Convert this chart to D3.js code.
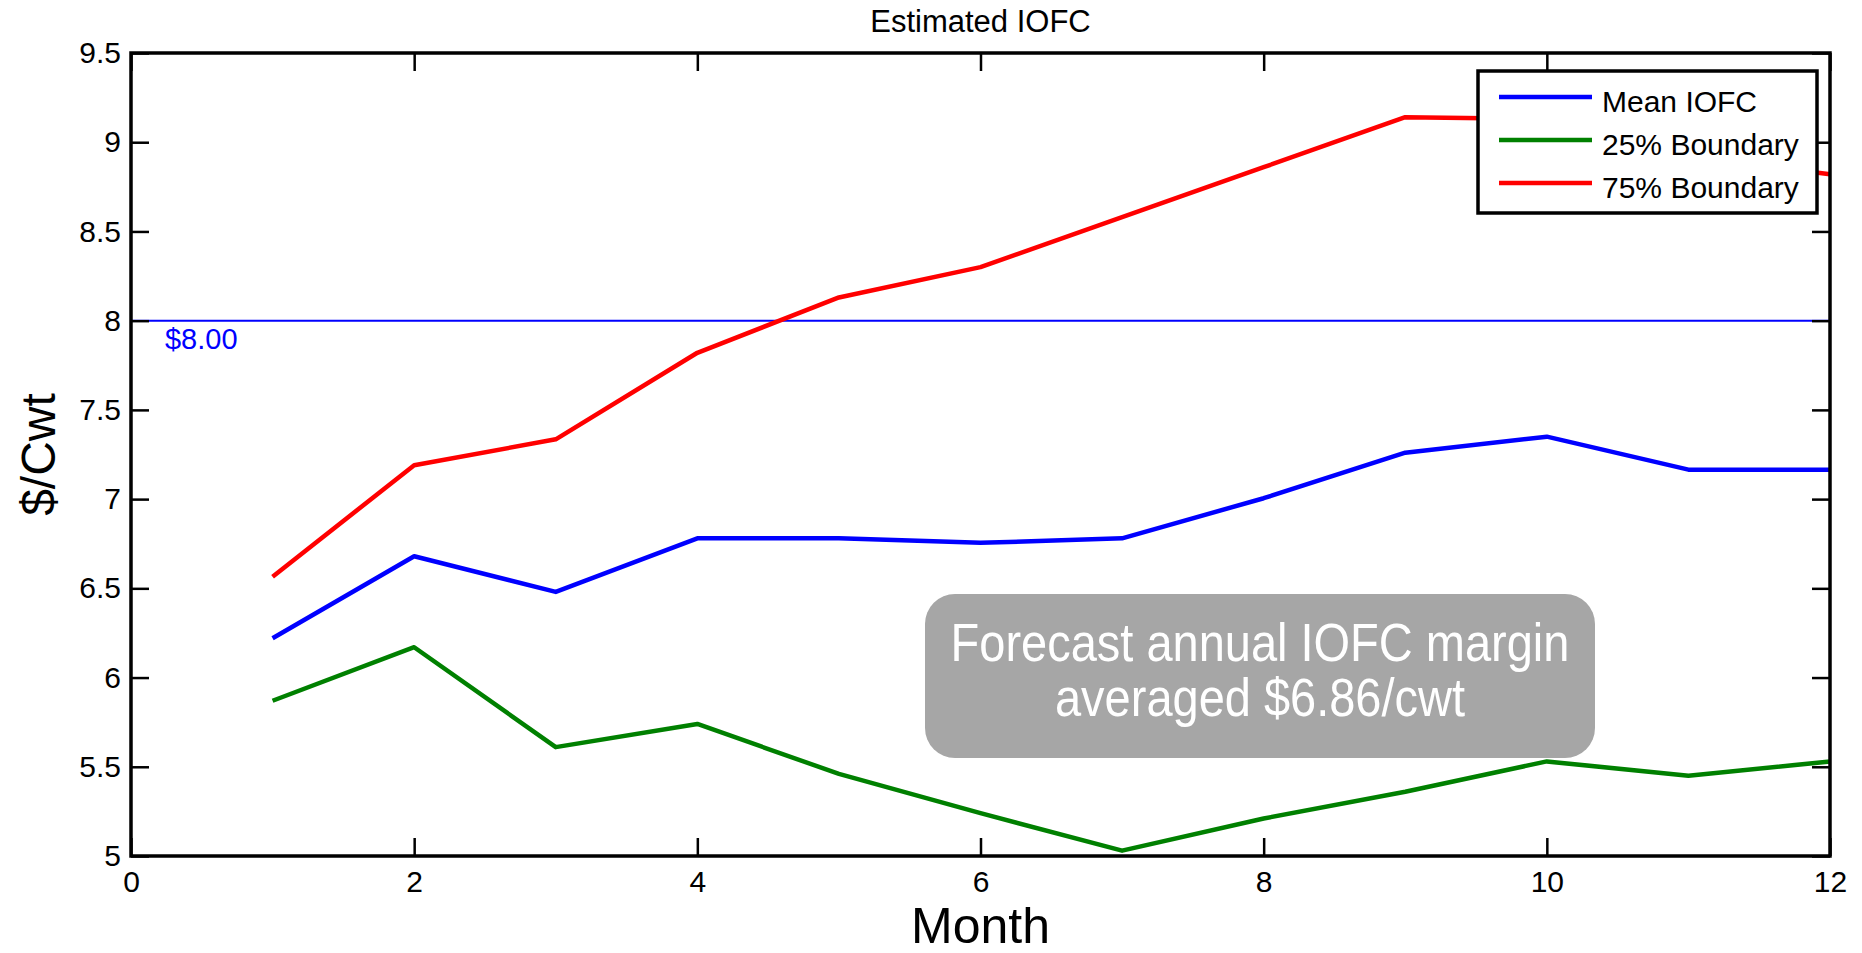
<!DOCTYPE html>
<html>
<head>
<meta charset="utf-8">
<script src="https://cdn.jsdelivr.net/npm/d3@7"></script>
<style>
  body { margin: 0; background: #fff; }
  svg { display: block; font-family: "Liberation Sans", Arial, sans-serif; }
  .axis path { display: none; }
  .axis line { stroke: #000; stroke-width: 2.5; }
  .axis text { font-size: 30px; fill: #000; font-family: "Liberation Sans", Arial, sans-serif; }
</style>
</head>
<body>
<svg id="chart" width="1862" height="953"></svg>
<script>
// months on the x axis
var months = [1, 2, 3, 4, 5, 6, 7, 8, 9, 10, 11, 12];

// estimated IOFC, $/cwt
var meanIOFC = [6.22, 6.68, 6.48, 6.78, 6.78, 6.755, 6.78, 7.005, 7.26, 7.35, 7.165, 7.165];
var boundary25 = [5.87, 6.17, 5.61, 5.74, 5.46, 5.24, 5.03, 5.21, 5.36, 5.53, 5.45, 5.53];
var boundary75 = [6.565, 7.19, 7.335, 7.82, 8.13, 8.30, 8.58, 8.86, 9.14, 9.13, 8.92, 8.82];

var seriesNames = ["Mean IOFC", "25% Boundary", "75% Boundary"];
var seriesColors = ["#0000ff", "#008000", "#ff0000"];

var xTicks = [0, 2, 4, 6, 8, 10, 12];
var yTicks = [5, 5.5, 6, 6.5, 7, 7.5, 8, 8.5, 9, 9.5];

var refValue = 8;
var refLabel = "$8.00";
var noteLines = ["Forecast annual IOFC margin", "averaged $6.86/cwt"];

document.addEventListener("DOMContentLoaded", draw);

function draw() {
  var svg = d3.select("#chart"),
      margin = {top: 53, right: 32, bottom: 97, left: 131},
      width = +svg.attr("width") - margin.left - margin.right,
      height = +svg.attr("height") - margin.top - margin.bottom;

  var x = d3.scaleLinear().domain([0, 12]).range([0, width]),
      y = d3.scaleLinear().domain([5, 9.5]).range([height, 0]);

  var g = svg.append("g")
      .attr("transform", "translate(" + margin.left + "," + margin.top + ")");

  // title
  svg.append("text")
      .attr("x", margin.left + width / 2)
      .attr("y", 32)
      .attr("text-anchor", "middle")
      .attr("font-size", "31px")
      .text("Estimated IOFC");

  // $8 reference line
  g.append("line")
      .attr("x1", 0).attr("x2", width)
      .attr("y1", y(refValue)).attr("y2", y(refValue))
      .attr("stroke", "#0000ff")
      .attr("stroke-width", 2);

  g.append("text")
      .attr("x", x(0.24))
      .attr("y", y(refValue) + 28)
      .attr("fill", "#0000ff")
      .attr("font-size", "29px")
      .text(refLabel);

  // the three series
  var series = [meanIOFC, boundary25, boundary75];
  var line = d3.line()
      .x(function(d, i) { return x(months[i]); })
      .y(function(d) { return y(d); });

  series.forEach(function(s, i) {
    g.append("path")
        .datum(s)
        .attr("fill", "none")
        .attr("stroke", seriesColors[i])
        .attr("stroke-width", 4.5)
        .attr("stroke-linejoin", "round")
        .attr("d", line);
  });

  // annotation box
  var note = g.append("g")
      .attr("transform", "translate(" + (925 - margin.left) + "," + (594 - margin.top) + ")");
  note.append("rect")
      .attr("width", 670)
      .attr("height", 164)
      .attr("rx", 30)
      .attr("fill", "#a6a6a6");
  // narrow look: squeeze the text horizontally
  note.selectAll("text")
      .data(noteLines)
      .enter()
      .append("text")
      .attr("transform", function(d, i) { return "translate(335," + (67 + i * 55) + ") scale(0.87,1)"; })
      .attr("text-anchor", "middle")
      .attr("fill", "#fff")
      .attr("font-size", "54px")
      .text(function(d) { return d; });

  // axes, ticks pointing inward on all four sides
  g.append("g")
      .attr("class", "axis")
      .attr("transform", "translate(0," + height + ")")
      .call(d3.axisBottom(x).tickValues(xTicks).tickSize(-18).tickSizeOuter(0).tickPadding(15));
  g.append("g")
      .attr("class", "axis")
      .call(d3.axisLeft(y).tickValues(yTicks).tickSize(-18).tickSizeOuter(0).tickPadding(10)
        .tickFormat(d3.format("")));
  g.append("g")
      .attr("class", "axis")
      .call(d3.axisTop(x).tickValues(xTicks).tickSize(-18).tickSizeOuter(0).tickFormat(""));
  g.append("g")
      .attr("class", "axis")
      .attr("transform", "translate(" + width + ",0)")
      .call(d3.axisRight(y).tickValues(yTicks).tickSize(-18).tickSizeOuter(0).tickFormat(""));

  g.append("rect")
      .attr("width", width)
      .attr("height", height)
      .attr("fill", "none")
      .attr("stroke", "#000")
      .attr("stroke-width", 3.5);

  // legend
  var legend = g.append("g")
      .attr("transform", "translate(" + (1478 - margin.left) + "," + (71 - margin.top) + ")");
  legend.append("rect")
      .attr("width", 339)
      .attr("height", 142)
      .attr("fill", "#fff")
      .attr("stroke", "#000")
      .attr("stroke-width", 3.5);
  seriesNames.forEach(function(name, i) {
    var ly = 26 + i * 43;
    legend.append("line")
        .attr("x1", 21).attr("x2", 114)
        .attr("y1", ly).attr("y2", ly)
        .attr("stroke", seriesColors[i])
        .attr("stroke-width", 4.5);
    legend.append("text")
        .attr("x", 124)
        .attr("y", ly)
        .attr("dy", "0.5em")
        .attr("font-size", "30px")
        .text(name);
  });

  // axis labels
  svg.append("text")
      .attr("x", margin.left + width / 2)
      .attr("y", 943)
      .attr("text-anchor", "middle")
      .attr("font-size", "50px")
      .text("Month");

  svg.append("text")
      .attr("transform", "translate(55," + (margin.top + height / 2) + ") rotate(-90)")
      .attr("text-anchor", "middle")
      .attr("font-size", "48px")
      .text("$/Cwt");
}
</script>
</body>
</html>
